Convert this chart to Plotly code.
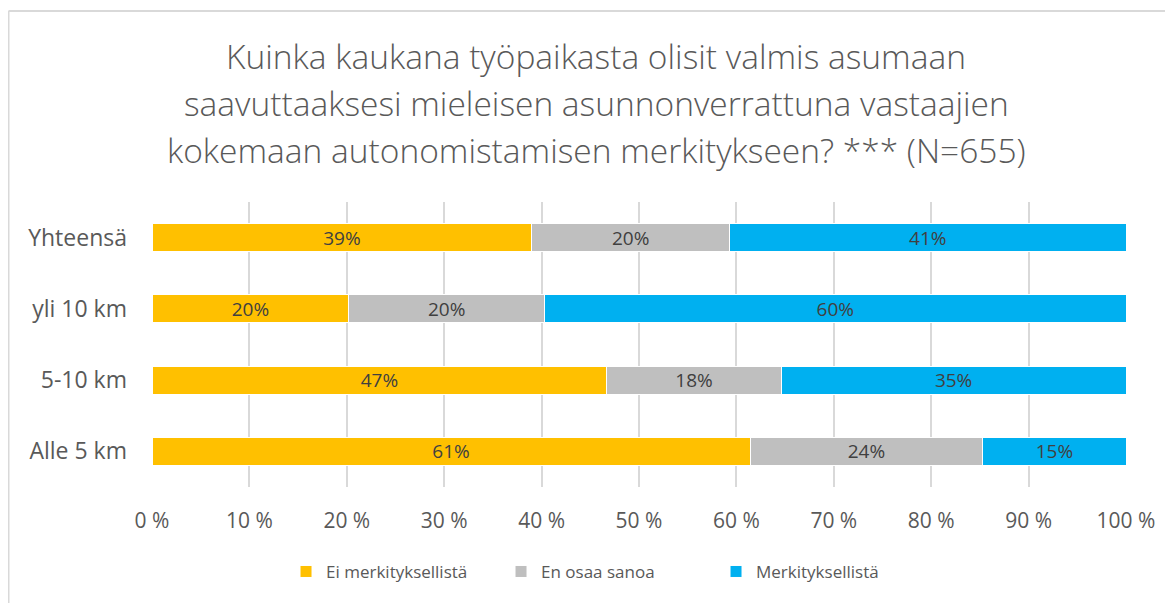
import plotly.graph_objects as go

# Data (percent shares)
CATEGORIES = ["Alle 5 km", "5-10 km", "yli 10 km", "Yhteensä"]
SERIES = ["Ei merkityksellistä", "En osaa sanoa", "Merkityksellistä"]
EI_MERK = [61.4, 46.7, 20.2, 39.0]
EN_OSAA = [23.9, 17.9, 20.1, 20.3]
MERK = [14.7, 35.4, 59.7, 40.7]
LABELS = [
    ["61%", "47%", "20%", "39%"],
    ["24%", "18%", "20%", "20%"],
    ["15%", "35%", "60%", "41%"],
]
X_TICKS = [0, 10, 20, 30, 40, 50, 60, 70, 80, 90, 100]
X_TICKTEXT = ["0 %", "10 %", "20 %", "30 %", "40 %", "50 %", "60 %", "70 %", "80 %", "90 %", "100 %"]
TITLE_LINES = [
    "Kuinka kaukana työpaikasta olisit valmis asumaan",
    "saavuttaaksesi mieleisen asunnonverrattuna vastaajien",
    "kokemaan autonomistamisen merkitykseen? *** (N=655)",
]

COLORS = ["#FFC000", "#BFBFBF", "#00B0F0"]
TEXT = "#595959"
FONT = "Open Sans"

# page body has an 8px margin, so margins are shifted to keep the plot in place
PLOT_W, PLOT_H = 974, 285

fig = go.Figure()
for name, vals, labels, clr in zip(SERIES, [EI_MERK, EN_OSAA, MERK], LABELS, COLORS):
    fig.add_trace(go.Bar(
        y=CATEGORIES, x=vals, name=name, orientation="h",
        marker=dict(color=clr, line=dict(color="white", width=1)),
        text=labels, textposition="inside", insidetextanchor="middle",
        constraintext="none", cliponaxis=False,
        textfont=dict(family=FONT, size=19, color="#404040"),
    ))

for i, line in enumerate(TITLE_LINES):
    fig.add_annotation(
        text=line, xref="paper", yref="paper", x=0.456, y=1 + (146.5 - 47 * i) / PLOT_H,
        xanchor="center", yanchor="middle", showarrow=False,
        font=dict(family=FONT, size=33.5, color=TEXT, weight=300),
    )

# chart border (top + left edges visible in the crop)
bx = -143.5 / PLOT_W
by = 1 + 191 / PLOT_H
fig.add_shape(type="line", xref="paper", yref="paper", x0=bx, x1=1.1, y0=by, y1=by,
              line=dict(color="#D9D9D9", width=2))
fig.add_shape(type="line", xref="paper", yref="paper", x0=bx, x1=bx, y0=-0.5, y1=by,
              line=dict(color="#D9D9D9", width=2))

fig.update_layout(
    width=1173, height=603,
    margin=dict(l=144, r=55, t=194, b=124, autoexpand=False),
    barmode="stack", bargap=0.61,
    plot_bgcolor="white", paper_bgcolor="white",
    font=dict(family=FONT, color=TEXT),
    legend=dict(orientation="h", x=0.1376, xanchor="left",
                y=-0.298, yanchor="middle", entrywidth=170,
                font=dict(size=17, color=TEXT), traceorder="normal"),
)
fig.update_xaxes(range=[0, 100], tickvals=X_TICKS, ticktext=X_TICKTEXT, tickangle=0,
                 showgrid=True, gridcolor="#D9D9D9", gridwidth=2, zeroline=False,
                 tickfont=dict(size=21, color=TEXT), ticklabelstandoff=19)
fig.update_yaxes(tickfont=dict(size=23, color=TEXT), ticklabelstandoff=24, showgrid=False)

fig.write_html("out.html")
